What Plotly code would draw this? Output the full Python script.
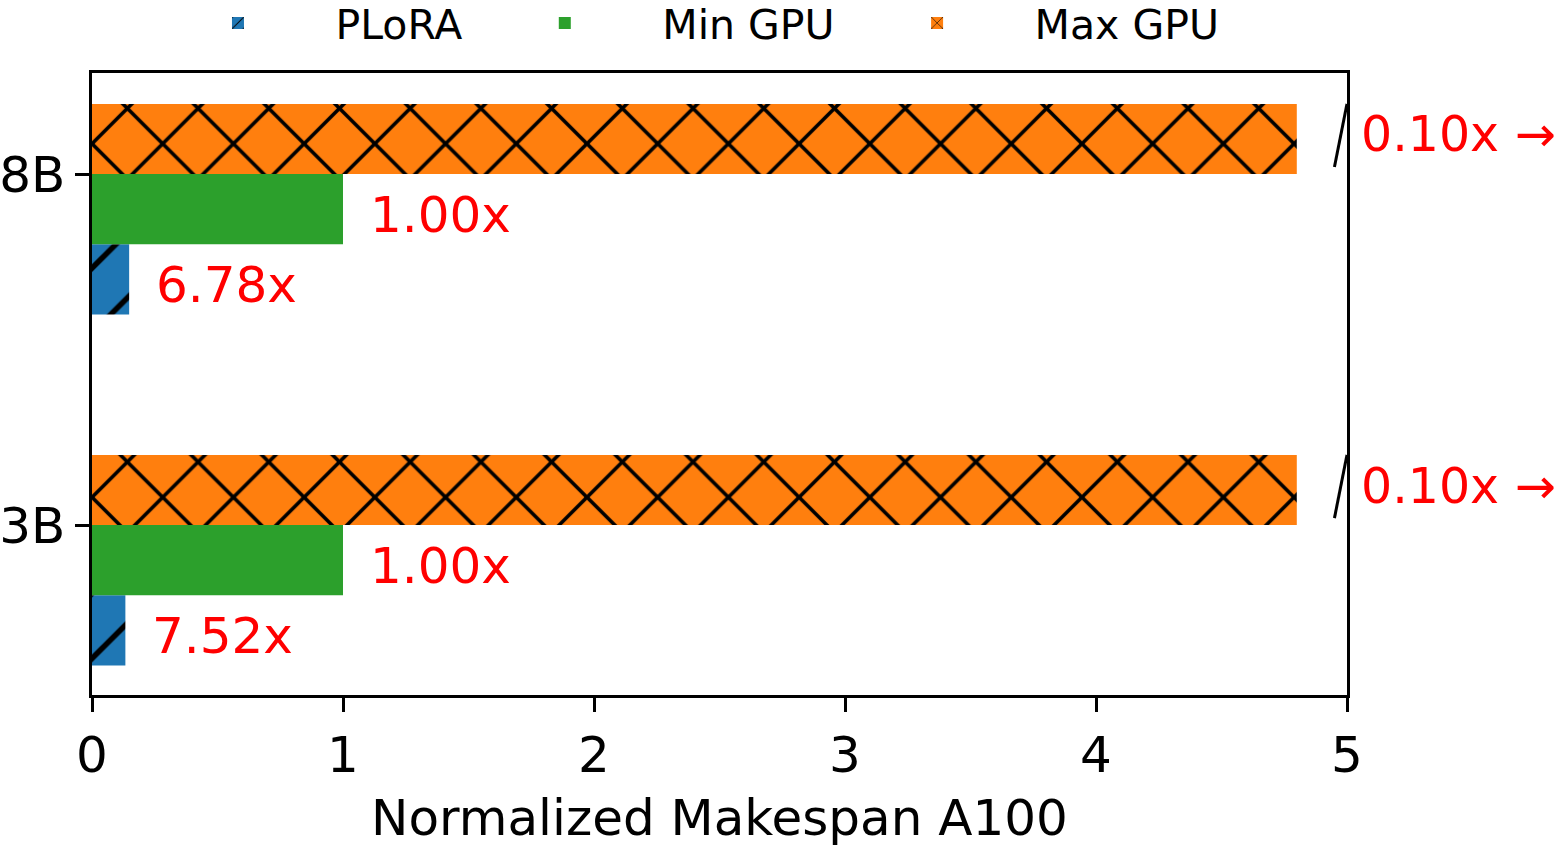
import plotly.graph_objects as go

# ---- data ----
models = ["3B", "8B"]
model_pos = [0, 1]
plora_makespan = [0.133, 0.148]
min_gpu_makespan = [1.0, 1.0]
max_gpu_makespan_shown = [4.8, 4.8]   # clipped at axis break (true value ~10x)
plora_labels = ["7.52x", "6.78x"]
min_gpu_labels = ["1.00x", "1.00x"]
max_gpu_labels = ["0.10x →", "0.10x →"]
x_ticks = [0, 1, 2, 3, 4, 5]

BAR_W = 0.2
X_MAX = 5
FONT = "DejaVu Sans"

fig = go.Figure()
fig.add_trace(go.Bar(
    name="PLoRA", y=model_pos, x=plora_makespan, orientation="h",
    width=BAR_W, offset=-2 * BAR_W,
    marker=dict(color="#1f77b4", line=dict(width=0),
                pattern=dict(shape="/", fgcolor="black", bgcolor="#1f77b4",
                             fgopacity=1, size=46, solidity=0.12)),
))
fig.add_trace(go.Bar(
    name="Min GPU", y=model_pos, x=min_gpu_makespan, orientation="h",
    width=BAR_W, offset=-BAR_W,
    marker=dict(color="#2ca02c", line=dict(width=0)),
))
fig.add_trace(go.Bar(
    name="Max GPU", y=model_pos, x=max_gpu_makespan_shown, orientation="h",
    width=BAR_W, offset=0,
    marker=dict(color="#ff7f0e", line=dict(width=0),
                pattern=dict(shape="x", fgcolor="black", bgcolor="#ff7f0e",
                             fgopacity=1, size=50, solidity=0.14)),
))

annotations = []
for p, v, t in zip(model_pos, plora_makespan, plora_labels):
    annotations.append(dict(x=v + 0.1, y=p - 1.5 * BAR_W, text=t, xref="x", yref="y",
                            xanchor="left", yanchor="middle", showarrow=False, yshift=-6,
                            font=dict(family=FONT, size=50, color="red")))
for p, v, t in zip(model_pos, min_gpu_makespan, min_gpu_labels):
    annotations.append(dict(x=v + 0.1, y=p - 0.5 * BAR_W, text=t, xref="x", yref="y",
                            xanchor="left", yanchor="middle", showarrow=False, yshift=-6,
                            font=dict(family=FONT, size=50, color="red")))
for p, t in zip(model_pos, max_gpu_labels):
    annotations.append(dict(x=(X_MAX + 0.05) / X_MAX, y=p + 0.5 * BAR_W, text=t,
                            xref="paper", yref="y", borderpad=0,
                            xanchor="left", yanchor="middle", showarrow=False, yshift=4,
                            font=dict(family=FONT, size=49, color="red")))

shapes = []
for p in model_pos:
    shapes.append(dict(type="line", xref="x", yref="y",
                       x0=X_MAX - 0.05, y0=p + 0.1 * BAR_W, x1=X_MAX, y1=p + BAR_W,
                       line=dict(color="black", width=3)))

fig.update_layout(
    width=1557, height=847,
    margin=dict(l=92, r=210, t=73, b=152, autoexpand=False),
    paper_bgcolor="white", plot_bgcolor="white",
    barmode="overlay",
    font=dict(family=FONT, size=50, color="black"),
    showlegend=True,
    legend=dict(orientation="h", x=0.4705, xanchor="center", y=1.080, yanchor="middle",
                font=dict(family=FONT, size=41), bgcolor="rgba(0,0,0,0)",
                itemwidth=185, traceorder="normal"),
    annotations=annotations,
    shapes=shapes,
    xaxis=dict(range=[0, X_MAX], tickvals=x_ticks, ticktext=[str(t) for t in x_ticks],
               showgrid=False, zeroline=False, showline=True, mirror=True,
               linecolor="black", linewidth=2.5, ticks="outside", ticklen=14,
               tickwidth=2.5, tickcolor="black", tickfont=dict(size=50), automargin=False,
               title=dict(text="Normalized Makespan A100", font=dict(size=50), standoff=20)),
    yaxis=dict(range=[-0.484, 1.288], tickvals=model_pos, ticktext=models,
               showgrid=False, zeroline=False, showline=True, mirror=True, automargin=False,
               linecolor="black", linewidth=2.5, ticks="outside", ticklen=14,
               tickwidth=2.5, tickcolor="black", tickfont=dict(size=50)),
)

fig.write_html("out.html")
